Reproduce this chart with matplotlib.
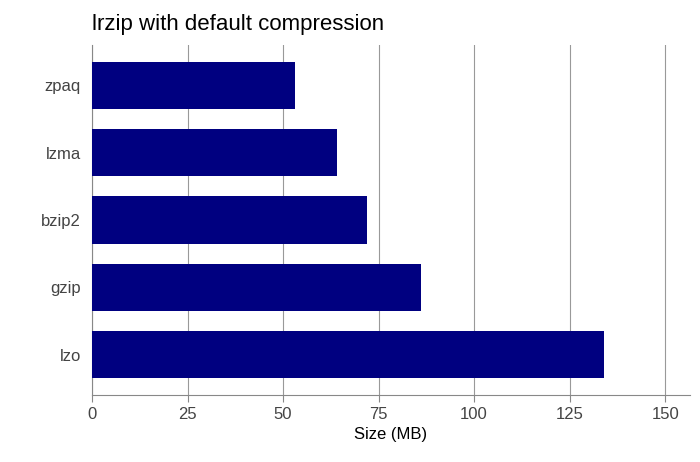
import matplotlib
matplotlib.use("Agg")
import matplotlib.pyplot as plt

categories = ["lzo", "gzip", "bzip2", "lzma", "zpaq"]
sizes = [134, 86, 72, 64, 53]
xticks = [0, 25, 50, 75, 100, 125, 150]

plt.rcParams['font.family'] = ['Liberation Sans', 'DejaVu Sans']
fig = plt.figure(figsize=(7, 4.62), dpi=100)
ax = fig.add_axes([0.1314, 0.145, 0.8543, 0.7576])
ax.barh(range(len(categories)), sizes, height=0.7, color="#000080", zorder=3)
ax.set_yticks(range(len(categories)))
ax.set_yticklabels(categories, fontsize=12, color="#444444")
ax.set_xticks(xticks)
ax.set_xticklabels([str(t) for t in xticks], fontsize=12, color="#444444")
ax.set_xlim(0, 156.5)
ax.set_ylim(-0.6, 4.6)
ax.grid(axis="x", color="#999999", linewidth=0.8, zorder=0)
for s in ["top", "right"]:
    ax.spines[s].set_visible(False)
for s in ["left", "bottom"]:
    ax.spines[s].set_color("#888888")
ax.tick_params(axis="y", length=0, pad=8)
ax.tick_params(axis="x", length=5, color="#888888")
ax.set_xlabel("Size (MB)", fontsize=12)
fig.text(0.1314, 0.935, "lrzip with default compression", fontsize=16)
fig.savefig("out.png", dpi=100)
